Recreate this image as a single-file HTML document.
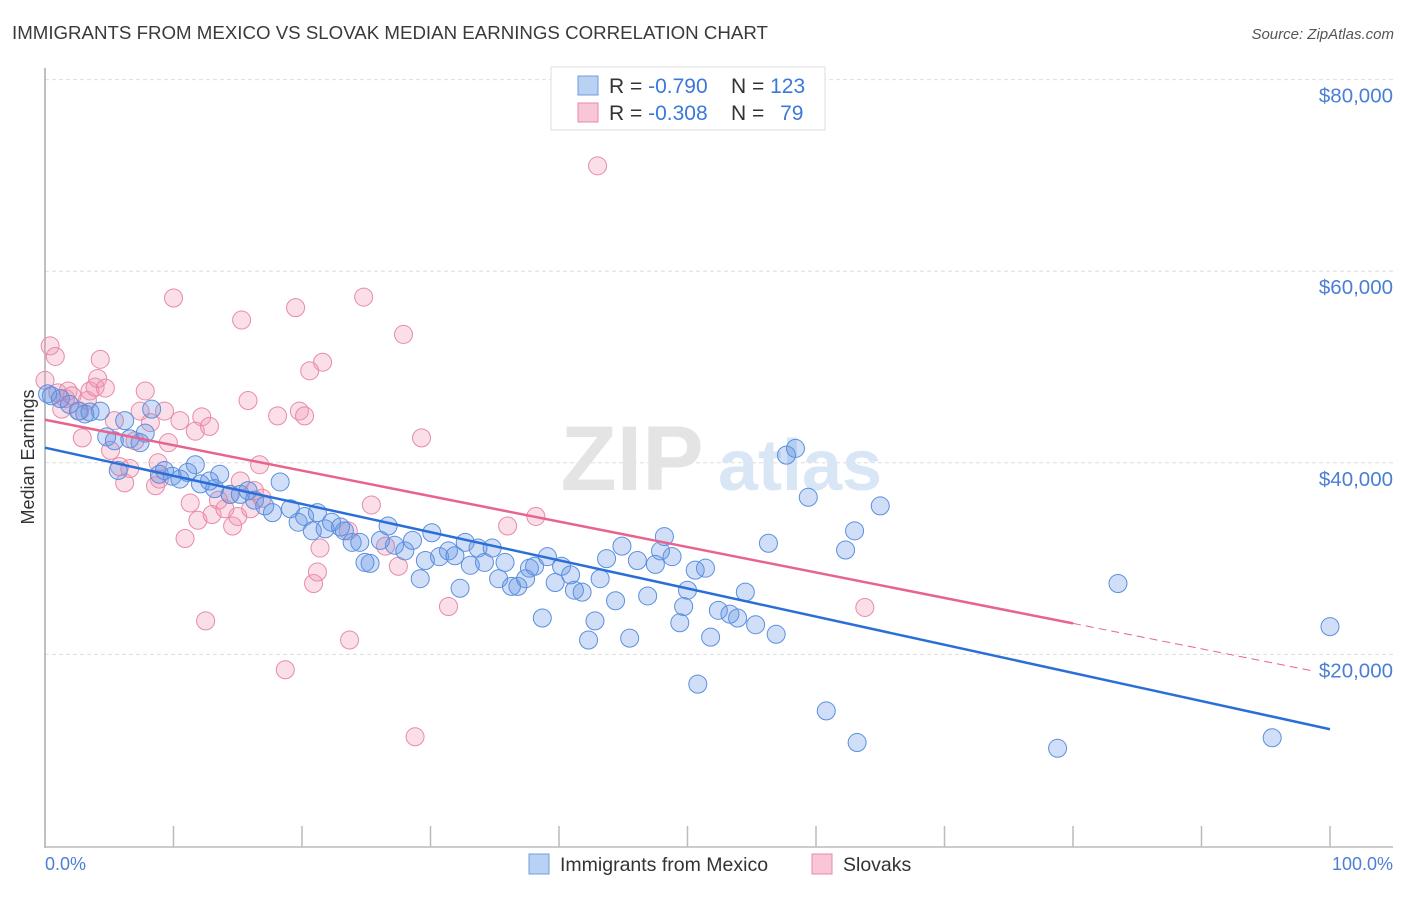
<!DOCTYPE html>
<html><head><meta charset="utf-8">
<style>
body{margin:0;background:#fff;font-family:"Liberation Sans",sans-serif;}
svg text{font-family:"Liberation Sans",sans-serif;}
</style></head>
<body>
<svg id="chart" width="1406" height="892" xmlns="http://www.w3.org/2000/svg">
<text x="12" y="39" font-size="18.7" fill="#3a3a3a">IMMIGRANTS FROM MEXICO VS SLOVAK MEDIAN EARNINGS CORRELATION CHART</text>
<text x="1394" y="39" font-size="15" fill="#555" font-style="italic" text-anchor="end">Source: ZipAtlas.com</text>
<g id="grid"></g>
<g>
<text x="632" y="490" font-size="92" fill="#e4e4e4" font-family="Liberation Serif" text-anchor="middle" font-weight="bold">ZIP</text>
<text x="800" y="490" font-size="72" fill="#d8e6f5" text-anchor="middle" font-weight="bold">atlas</text>
</g>
<g id="pts"></g>
<g id="lines"></g>
<text transform="translate(34,457) rotate(-90)" font-size="18" fill="#333" text-anchor="middle">Median Earnings</text>
<text x="45" y="870" font-size="18" fill="#4a7fd4">0.0%</text>
<text x="1393" y="870" font-size="18" fill="#4a7fd4" text-anchor="end">100.0%</text>
<g>
<rect x="551" y="67" width="274" height="63" fill="#fff" stroke="#ddd"/>
<rect x="578" y="76" width="20" height="19" fill="#b9d1f3" stroke="#6f9de0"/>
<rect x="578" y="103" width="20" height="19" fill="#f8c6d6" stroke="#e88aa8"/>
<text x="609" y="93" font-size="21" fill="#333">R = <tspan fill="#3b78d8">-0.790</tspan></text>
<text x="731" y="93" font-size="21" fill="#333">N = <tspan fill="#3b78d8">123</tspan></text>
<text x="609" y="120" font-size="21" fill="#333">R = <tspan fill="#3b78d8">-0.308</tspan></text>
<text x="731" y="120" font-size="21" fill="#333">N = <tspan fill="#3b78d8" dx="10">79</tspan></text>
</g>
<g>
<rect x="529" y="854" width="20" height="20" fill="#b9d1f3" stroke="#6f9de0"/>
<text x="560" y="871" font-size="19.5" fill="#333">Immigrants from Mexico</text>
<rect x="812" y="854" width="20" height="20" fill="#f8c6d6" stroke="#e88aa8"/>
<text x="843" y="871" font-size="19.5" fill="#333">Slovaks</text>
</g>
</svg>
<script>
const yTicks=[20000,40000,60000,80000];
const yTickLabels=["$20,000","$40,000","$60,000","$80,000"];
const xTicks=[0,10,20,30,40,50,60,70,80,90,100];
const mexicoX=[0.2,0.5,1.2,1.9,2.6,3.1,3.5,4.3,4.8,5.4,6.2,6.6,7.4,7.8,8.3,8.9,9.3,9.9,10.5,11.1,11.7,12.1,12.8,13.6,13.2,14.4,15.2,15.8,16.3,17.1,17.7,18.3,19.1,19.7,20.2,20.8,21.2,21.8,22.3,23.0,23.3,23.9,24.5,24.9,25.3,26.1,26.7,27.2,28.0,28.6,29.2,29.6,30.1,30.7,31.4,31.9,32.3,32.7,33.1,33.7,34.2,34.8,35.3,35.8,36.3,36.8,37.4,37.7,38.1,38.7,39.1,39.7,40.2,40.9,41.2,41.8,42.3,42.8,43.2,43.7,44.4,44.9,45.5,46.1,46.9,47.5,47.9,48.2,48.8,49.4,49.7,50.0,50.6,50.8,51.4,51.8,52.4,53.3,53.9,54.5,55.3,56.3,56.9,57.7,58.4,59.4,60.8,62.3,63.0,63.2,65.0,78.8,83.5,95.5,100.0,5.7];
const mexicoY=[47.2,47.0,46.7,46.1,45.4,45.1,45.3,45.4,42.7,42.3,44.4,42.5,42.1,43.1,45.6,38.8,39.2,38.6,38.3,39.0,39.8,37.8,38.1,38.8,37.3,36.7,36.7,37.1,36.1,35.5,34.8,38.0,35.2,33.8,34.4,32.9,34.8,33.1,33.8,33.3,32.9,31.7,31.7,29.6,29.5,31.9,33.4,31.4,30.8,31.9,27.9,29.8,32.7,30.2,30.8,30.3,26.9,31.7,29.3,31.1,29.6,31.1,27.9,29.6,27.1,27.1,27.9,29.0,29.2,23.8,30.2,27.5,29.2,28.3,26.7,26.5,21.5,23.5,27.9,30.0,25.6,31.3,21.7,29.8,26.1,29.4,30.8,32.3,30.2,23.3,25.0,26.7,28.8,16.9,29.0,21.8,24.6,24.2,23.8,26.5,23.1,31.6,22.1,40.8,41.5,36.4,14.1,30.9,32.9,10.8,35.5,10.2,27.4,11.3,22.9,39.2];
const slovakX=[0.4,0.8,1.0,1.3,1.6,1.8,2.1,2.7,2.9,3.3,3.5,3.9,4.1,4.3,4.7,5.1,5.4,5.8,6.2,6.6,7.0,7.4,7.8,8.2,8.6,8.8,8.9,9.3,9.6,10.0,10.5,10.9,11.3,11.7,11.9,12.2,12.5,12.8,13.0,13.5,14.0,14.4,14.6,15.0,15.3,15.8,16.0,16.3,16.7,16.9,18.1,18.7,19.5,19.8,20.2,20.6,20.9,21.2,21.6,21.4,23.6,23.7,24.8,25.4,26.5,27.5,27.9,28.8,29.3,31.4,36.0,38.2,43.0,63.8,0.0,15.2];
const slovakY=[52.2,51.1,47.3,45.6,46.7,47.5,47.0,45.4,42.6,46.5,47.5,47.9,48.8,50.8,47.8,41.3,44.4,39.6,37.9,39.4,42.3,45.4,47.5,44.2,37.6,40.0,38.3,45.4,42.1,57.2,44.4,32.1,35.8,43.3,34.0,44.8,23.5,43.8,34.6,36.1,35.2,36.7,33.4,34.4,54.9,46.5,35.2,37.1,39.8,36.3,44.9,18.4,56.2,45.4,44.9,49.6,27.4,28.6,50.5,31.1,32.9,21.5,57.3,35.6,31.3,29.2,53.4,11.4,42.6,25.0,33.4,34.4,71.0,24.9,48.6,38.1];
const mexicoTrend=[41576,12190];
const slovakTrend=[44493,17924];
const slovakSolidEnd=80;

const NS="http://www.w3.org/2000/svg";
const X=p=>45+p*12.85;
const Y=v=>846-v*0.00958;
function mk(tag,attrs,parent){const e=document.createElementNS(NS,tag);for(const k in attrs)e.setAttribute(k,attrs[k]);parent.appendChild(e);return e;}
const grid=document.getElementById('grid');
yTicks.forEach((t,i)=>{
  const l=mk('line',{x1:45,x2:1393,y1:Y(t),y2:Y(t),stroke:'#ddd','stroke-dasharray':'4,3'},grid);
  
  
  const tx=mk('text',{x:1393,y:Y(t)+23,'font-size':20.5,fill:'#4a7fd4','text-anchor':'end'},grid);
  tx.textContent=yTickLabels[i];
  
  
});
const ax=mk('line',{x1:45,x2:45,y1:68,y2:848,stroke:'#aaa','stroke-width':1.5},grid);


const bx=mk('line',{x1:45,x2:1393,y1:847,y2:847,stroke:'#bbb','stroke-width':1.5},grid);


xTicks.forEach(t=>{
  const l=mk('line',{x1:X(t),x2:X(t),y1:826,y2:847,stroke:'#bbb','stroke-width':1.5},grid);
  
  
});
const pts=document.getElementById('pts');
slovakX.forEach((x,i)=>{
  const c=mk('circle',{cx:X(x),cy:Y(slovakY[i]*1000),r:9,fill:'rgba(240,150,180,0.3)',stroke:'#e88aa8','stroke-width':1},pts);
  
  
});
mexicoX.forEach((x,i)=>{
  const c=mk('circle',{cx:X(x),cy:Y(mexicoY[i]*1000),r:9,fill:'rgba(100,150,230,0.3)',stroke:'#5b8fde','stroke-width':1},pts);
  
  
});
const lines=document.getElementById('lines');
const tv=(tr,p)=>tr[0]+(tr[1]-tr[0])*p/100;
const bl=mk('line',{x1:X(0),y1:Y(tv(mexicoTrend,0)),x2:X(100),y2:Y(tv(mexicoTrend,100)),stroke:'#2a6fd8','stroke-width':2.5},lines);


const pl=mk('line',{x1:X(0),y1:Y(tv(slovakTrend,0)),x2:X(slovakSolidEnd),y2:Y(tv(slovakTrend,slovakSolidEnd)),stroke:'#e8648e','stroke-width':2.5},lines);


const pd=mk('line',{x1:X(slovakSolidEnd),y1:Y(tv(slovakTrend,slovakSolidEnd)),x2:X(98.5),y2:Y(tv(slovakTrend,98.5)),stroke:'#e8648e','stroke-width':1,'stroke-dasharray':'8,5'},lines);


</script>
</body></html>
